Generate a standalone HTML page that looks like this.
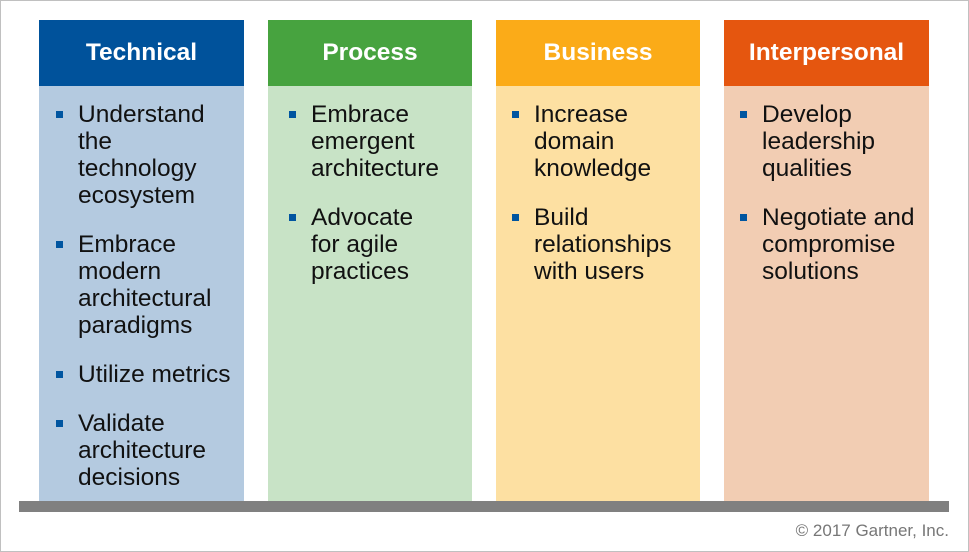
<!DOCTYPE html>
<html><head><style>
body{margin:0;width:969px;height:552px;position:relative;background:#fff;font-family:"Liberation Sans",Arial,sans-serif;overflow:hidden}
.frame{position:absolute;left:0;top:0;width:967px;height:550px;border:1px solid #c0c0c0}
.col{position:absolute;top:20px;width:205px;height:481px}
.hd{height:66px;line-height:66px;text-align:center;color:#fff;font-weight:bold;font-size:24.5px}
.bd{height:415px;position:relative}
ul{list-style:none;margin:0;padding:0;position:absolute;left:39px;top:101px;right:0}
li{font-size:24.5px;line-height:27px;color:#111;margin-bottom:22px;position:relative}
li:before{content:"";position:absolute;left:-22px;top:10px;width:7px;height:7px;background:#0055a0}
.bar{position:absolute;left:19px;top:501px;width:930px;height:11px;background:#808080}
.copy{position:absolute;right:20px;top:521px;font-size:17px;color:#777}
</style></head><body>
<div class="frame"></div>
<div class="col" style="left:39px"><div class="hd" style="background:#00529b">Technical</div><div class="bd" style="background:#b4cae0"></div></div>
<div class="col" style="left:268px;width:204px"><div class="hd" style="background:#47a33f">Process</div><div class="bd" style="background:#c8e3c6"></div></div>
<div class="col" style="left:496px;width:204px"><div class="hd" style="background:#fbab18">Business</div><div class="bd" style="background:#fde0a2"></div></div>
<div class="col" style="left:724px"><div class="hd" style="background:#e5560f">Interpersonal</div><div class="bd" style="background:#f2cdb3"></div></div>
<ul style="left:78px;top:101px;width:175px"><li>Understand<br>the<br>technology<br>ecosystem</li><li>Embrace<br>modern<br>architectural<br>paradigms</li><li>Utilize metrics</li><li>Validate<br>architecture<br>decisions</li></ul>
<ul style="left:311px;top:101px;width:165px"><li>Embrace<br>emergent<br>architecture</li><li>Advocate<br>for agile<br>practices</li></ul>
<ul style="left:534px;top:101px;width:165px"><li>Increase<br>domain<br>knowledge</li><li>Build<br>relationships<br>with users</li></ul>
<ul style="left:762px;top:101px;width:180px"><li>Develop<br>leadership<br>qualities</li><li>Negotiate and<br>compromise<br>solutions</li></ul>
<div class="bar"></div>
<div class="copy">© 2017 Gartner, Inc.</div>
</body></html>
